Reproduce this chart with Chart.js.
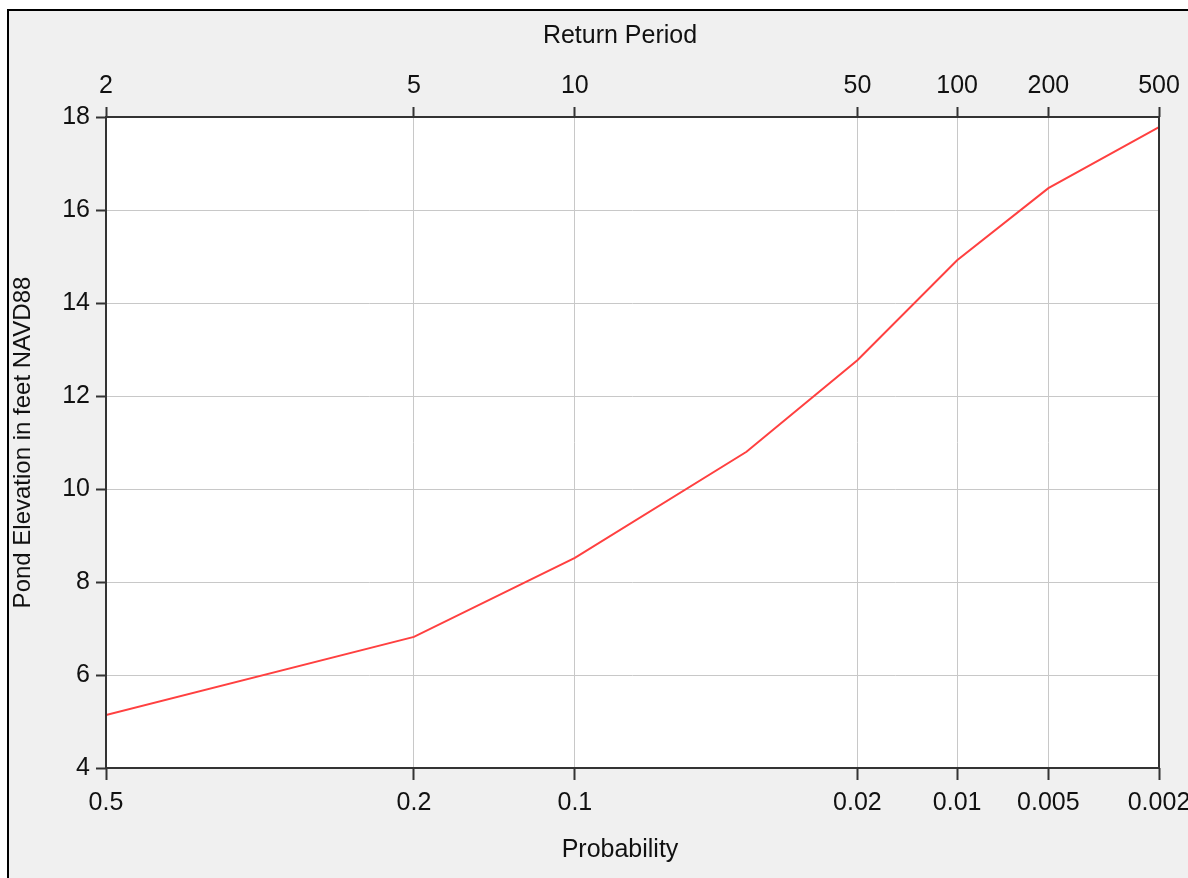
<!DOCTYPE html>
<html>
<head>
<meta charset="utf-8">
<script src="https://cdn.jsdelivr.net/npm/chart.js@4/dist/chart.umd.min.js"></script>
<style>
  html, body { margin: 0; padding: 0; background: #ffffff; overflow: hidden; width: 1188px; height: 878px; }
  #frame { position: absolute; left: 7px; top: 9px; width: 1300px; height: 1000px;
           border-left: 2px solid #000; border-top: 2px solid #000; background: #f0f0f0; }
  #c { position: absolute; left: 0; top: 0; }
</style>
</head>
<body>
<div id="frame"></div>
<canvas id="c" width="1210" height="878" style="width:1210px;height:878px"></canvas>
<script>
// ---- data ----
const probabilities = [0.5, 0.2, 0.1, 0.04, 0.02, 0.01, 0.005, 0.002];
const elevations    = [5.14, 6.82, 8.52, 10.8, 12.77, 14.92, 16.47, 17.78];
const probTicks     = [0.5, 0.2, 0.1, 0.02, 0.01, 0.005, 0.002];
const probLabels    = ['0.5', '0.2', '0.1', '0.02', '0.01', '0.005', '0.002'];
const returnPeriods = [2, 5, 10, 50, 100, 200, 500];
const yTicksMin = 4, yTicksMax = 18, yStep = 2;

// inverse standard normal (Acklam)
function normInv(p) {
  const a = [-3.969683028665376e+01, 2.209460984245205e+02, -2.759285104469687e+02, 1.383577518672690e+02, -3.066479806614716e+01, 2.506628277459239e+00];
  const b = [-5.447609879822406e+01, 1.615858368580409e+02, -1.556989798598866e+02, 6.680131188771972e+01, -1.328068155288572e+01];
  const c = [-7.784894002430293e-03, -3.223964580411365e-01, -2.400758277161838e+00, -2.549732539343734e+00, 4.374664141464968e+00, 2.938163982698783e+00];
  const d = [7.784695709041462e-03, 3.224671290700398e-01, 2.445134137142996e+00, 3.754408661907416e+00];
  const plow = 0.02425;
  let q, r;
  if (p < plow) {
    q = Math.sqrt(-2 * Math.log(p));
    return (((((c[0]*q+c[1])*q+c[2])*q+c[3])*q+c[4])*q+c[5]) / ((((d[0]*q+d[1])*q+d[2])*q+d[3])*q+1);
  } else if (p <= 1 - plow) {
    q = p - 0.5; r = q*q;
    return (((((a[0]*r+a[1])*r+a[2])*r+a[3])*r+a[4])*r+a[5])*q / (((((b[0]*r+b[1])*r+b[2])*r+b[3])*r+b[4])*r+1);
  } else {
    q = Math.sqrt(-2 * Math.log(1 - p));
    return -(((((c[0]*q+c[1])*q+c[2])*q+c[3])*q+c[4])*q+c[5]) / ((((d[0]*q+d[1])*q+d[2])*q+d[3])*q+1);
  }
}
const zOf = p => -normInv(p);

// normal-probability (probit) scale
class ProbitScale extends Chart.Scale {
  determineDataLimits() { this.min = this.options.min; this.max = this.options.max; }
  buildTicks() { return (this.options.tickValues || []).map(v => ({ value: v })); }
  configure() { super.configure(); this._z0 = zOf(this.min); this._z1 = zOf(this.max); }
  getPixelForValue(v) { return this.getPixelForDecimal((zOf(v) - this._z0) / (this._z1 - this._z0)); }
  getValueForPixel(px) { return this.getDecimalForPixel(px); }
  getLabelForValue(v) { return String(v); }
}
ProbitScale.id = 'probit';
ProbitScale.defaults = {};
Chart.register(ProbitScale);

Chart.defaults.font.family = '"Liberation Sans", Arial, sans-serif';
Chart.defaults.color = '#111';

const tickFont = { size: 25 };
const gridColor = '#c8c8c8';
const axisColor = '#333333';

const chart = new Chart(document.getElementById('c'), {
  type: 'line',
  data: {
    datasets: [{
      data: probabilities.map((p, i) => ({ x: p, y: elevations[i] })),
      borderColor: '#ff4040',
      borderWidth: 2,
      pointRadius: 0,
      tension: 0,
      fill: false,
      xAxisID: 'x',
      yAxisID: 'y'
    }]
  },
  options: {
    responsive: false,
    animation: false,
    events: [],
    layout: { padding: { left: 0, top: 0, right: 51, bottom: 0 } },
    plugins: { legend: { display: false }, tooltip: { enabled: false } },
    scales: {
      x: {
        type: 'probit', position: 'bottom',
        min: 0.5, max: 0.002,
        tickValues: probTicks,
        afterFit: s => { s.height = 110; },
        border: { display: false },
        grid: { color: gridColor, lineWidth: 1, tickColor: axisColor, tickWidth: 2, tickLength: 12, drawTicks: true },
        ticks: { autoSkip: false, maxRotation: 0, minRotation: 0, padding: 8, font: tickFont,
                 callback: (v, i) => probLabels[i] },
        title: { display: true, text: 'Probability\u2002\u2002', font: { size: 25 }, padding: { top: 0, bottom: 13 } }
      },
      x2: {
        type: 'probit', position: 'top',
        min: 0.5, max: 0.002,
        tickValues: returnPeriods.map(t => 1 / t),
        afterFit: s => { s.height = 117; },
        border: { display: false },
        grid: { drawOnChartArea: false, color: gridColor, tickColor: axisColor, tickWidth: 2, tickLength: 10, drawTicks: true },
        ticks: { autoSkip: false, maxRotation: 0, minRotation: 0, padding: 6, font: tickFont,
                 callback: (v, i) => String(returnPeriods[i]) },
        title: { display: true, text: 'Return Period\u2002\u2002', font: { size: 25 }, padding: { top: 21, bottom: 0 } }
      },
      y: {
        type: 'linear', position: 'left',
        min: yTicksMin, max: yTicksMax,
        afterFit: s => { s.width = 106; },
        border: { display: false },
        grid: { color: gridColor, lineWidth: 1, tickColor: axisColor, tickWidth: 2, tickLength: 10, drawTicks: true },
        ticks: { stepSize: yStep, padding: 6, font: tickFont },
        title: { display: true, text: 'Pond Elevation in feet NAVD88', font: { size: 24 }, padding: { top: 9, bottom: 0 } }
      }
    }
  },
  plugins: [{
    id: 'plotArea',
    beforeDraw(c) {
      const a = c.chartArea, ctx = c.ctx;
      ctx.save(); ctx.fillStyle = '#ffffff';
      ctx.fillRect(a.left, a.top, a.right - a.left, a.bottom - a.top);
      ctx.restore();
    },
    afterDraw(c) {
      const a = c.chartArea, ctx = c.ctx;
      ctx.save(); ctx.strokeStyle = axisColor; ctx.lineWidth = 2;
      ctx.strokeRect(a.left, a.top, a.right - a.left, a.bottom - a.top);
      ctx.restore();
    }
  }]
});
</script>
</body>
</html>
